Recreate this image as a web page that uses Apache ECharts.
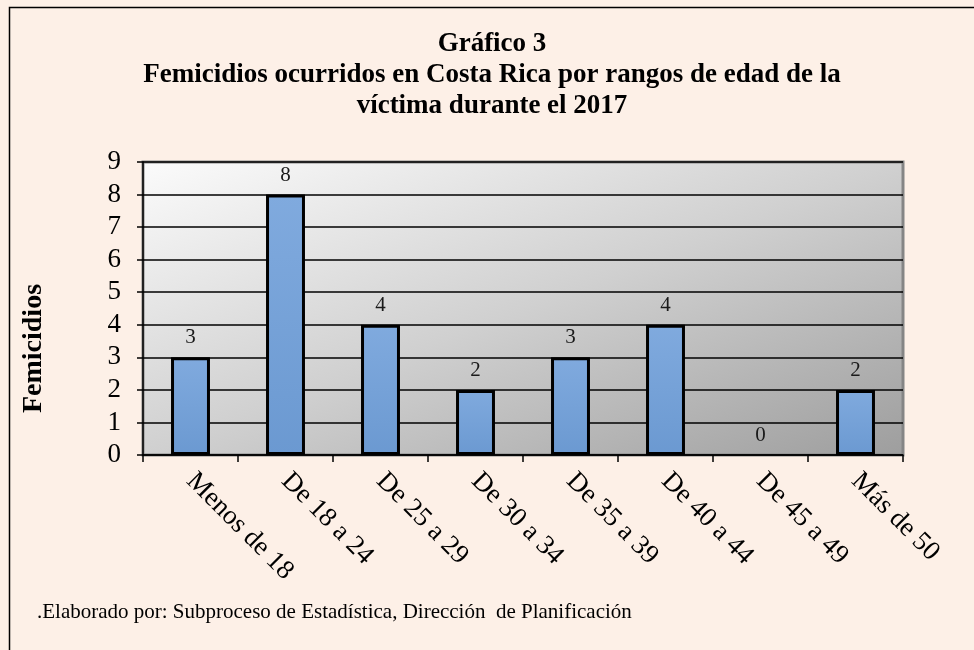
<!DOCTYPE html>
<html>
<head>
<meta charset="utf-8">
<script src="https://cdn.jsdelivr.net/npm/echarts@6/dist/echarts.min.js"></script>
<style>
  html, body { margin: 0; padding: 0; background: #fdf0e7; }
  #main { width: 974px; height: 650px; }
</style>
</head>
<body>
<div id="main"></div>
<script>
// datos del gráfico
var categorias = ['Menos de 18', 'De 18 a 24', 'De 25 a 29', 'De 30 a 34', 'De 35 a 39', 'De 40 a 44', 'De 45 a 49', 'Más de 50'];
var femicidios = [3, 8, 4, 2, 3, 4, 0, 2];
var titulo = 'Gráfico 3\nFemicidios ocurridos en Costa Rica por rangos de edad de la\nvíctima durante el 2017';
var nota = '.Elaborado por: Subproceso de Estadística, Dirección  de Planificación';

var serif = '"Liberation Serif", "DejaVu Serif", serif';

var myChart = echarts.init(document.getElementById('main'));

// las barras en cero no llevan borde
var barras = femicidios.map(function (v) {
    return v === 0 ? { value: v, itemStyle: { borderWidth: 0 } } : v;
});

var option = {
    backgroundColor: '#fdf0e7',
    animation: false,
    title: {
        text: titulo,
        left: 487,
        top: 24,
        textAlign: 'center',
        textStyle: {
            fontFamily: serif,
            fontWeight: 'bold',
            fontSize: 27,
            lineHeight: 31,
            color: '#000'
        }
    },
    graphic: [
        {
            type: 'rect',
            shape: { x: 9.5, y: 7.5, width: 990, height: 680 },
            style: { fill: 'transparent', stroke: '#000', lineWidth: 1.5 },
            z: 100
        },
        {
            type: 'text',
            left: 37,
            top: 602,
            style: {
                text: nota,
                font: '21px ' + serif,
                fill: '#000'
            }
        }
    ],
    grid: {
        left: 143,
        top: 162,
        width: 760,
        height: 293,
        show: true,
        borderColor: '#858585',
        borderWidth: 3,
        backgroundColor: {
            type: 'linear', x: 143, y: 162, x2: 340, y2: 672, global: true,
            colorStops: [
                { offset: 0, color: '#fbfbfb' },
                { offset: 0.5, color: '#d0d0d0' },
                { offset: 1, color: '#9e9e9e' }
            ]
        }
    },
    xAxis: {
        type: 'category',
        data: categorias,
        axisLine: { lineStyle: { color: '#000', width: 1.5 } },
        axisTick: { show: true, length: 7, lineStyle: { color: '#000', width: 1.5 } },
        axisLabel: {
            interval: 0,
            rotate: -45,
            margin: 22,
            fontFamily: serif,
            fontSize: 27,
            color: '#000'
        }
    },
    yAxis: {
        type: 'value',
        min: 0,
        max: 9,
        interval: 1,
        name: 'Femicidios',
        nameLocation: 'middle',
        nameGap: 95,
        nameRotate: 90,
        nameTextStyle: {
            fontFamily: serif,
            fontWeight: 'bold',
            fontSize: 28,
            color: '#000',
            padding: [0, 80, 0, 0]
        },
        axisLine: { show: true, lineStyle: { color: '#000', width: 1.5 } },
        axisTick: { show: true, length: 6, lineStyle: { color: '#000', width: 1.5 } },
        axisLabel: {
            margin: 22,
            fontFamily: serif,
            fontSize: 27,
            color: '#000'
        },
        splitLine: { lineStyle: { color: '#000', width: 1.5 } }
    },
    series: [{
        name: 'Femicidios',
        type: 'bar',
        data: barras,
        barWidth: '41%',
        itemStyle: {
            color: {
                type: 'linear', x: 0, y: 0, x2: 0, y2: 1,
                colorStops: [
                    { offset: 0, color: '#80aade' },
                    { offset: 1, color: '#6b99d1' }
                ]
            },
            borderColor: '#000',
            borderWidth: 3
        },
        label: {
            show: true,
            position: 'top',
            distance: 9,
            fontFamily: serif,
            fontSize: 21,
            color: '#1a1a1a'
        }
    }]
};

myChart.setOption(option);
</script>
</body>
</html>
